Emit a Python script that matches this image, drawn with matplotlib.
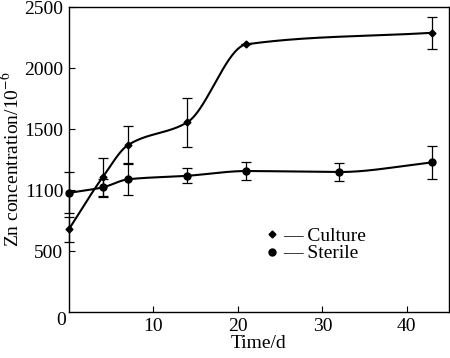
import numpy as np
import matplotlib
matplotlib.use("Agg")
import matplotlib.pyplot as plt
from matplotlib.lines import Line2D

plt.rcParams['font.family'] = ['Liberation Serif', 'DejaVu Serif']
plt.rcParams['mathtext.fontset'] = 'stix'

# data
culture_days = [0, 4, 7, 14, 21, 43]
culture_zn = [678, 1105, 1369, 1555, 2195, 2290]
culture_err = [100, 160, 155, 200, 0, 130]

sterile_days = [0, 4, 7, 14, 21, 32, 43]
sterile_zn = [977, 1022, 1088, 1117, 1156, 1148, 1227]
sterile_err = [168, 70, 130, 62, 75, 74, 135]

y_ticks = [500, 1000, 1500, 2000, 2500]
y_tick_labels = ['500', '1100', '1500', '2000', '2500']
x_ticks = [10, 20, 30, 40]


def pchip(x, y, xs):
    x = np.asarray(x, float); y = np.asarray(y, float)
    h = np.diff(x); d = np.diff(y) / h
    n = len(x)
    m = np.zeros(n)
    for k in range(1, n - 1):
        if d[k - 1] * d[k] > 0:
            w1 = 2 * h[k] + h[k - 1]; w2 = h[k] + 2 * h[k - 1]
            m[k] = (w1 + w2) / (w1 / d[k - 1] + w2 / d[k])
    m[0] = d[0]; m[-1] = d[-1]
    out = np.empty_like(xs)
    for i, t in enumerate(xs):
        k = min(max(np.searchsorted(x, t) - 1, 0), n - 2)
        s = (t - x[k]) / h[k]
        h00 = 2*s**3 - 3*s**2 + 1; h10 = s**3 - 2*s**2 + s
        h01 = -2*s**3 + 3*s**2; h11 = s**3 - s**2
        out[i] = h00*y[k] + h10*h[k]*m[k] + h01*y[k+1] + h11*h[k]*m[k+1]
    return out


fig = plt.figure(figsize=(4.5, 3.58), dpi=100)
ax = fig.add_axes([0.153, 0.1285, 0.845, 0.8515])

xs = np.linspace(culture_days[0], culture_days[-1], 400)
ax.plot(xs, pchip(culture_days, culture_zn, xs), color='black', lw=1.5)
xs2 = np.linspace(sterile_days[0], sterile_days[-1], 400)
ax.plot(xs2, pchip(sterile_days, sterile_zn, xs2), color='black', lw=1.5)

ax.errorbar(culture_days, culture_zn, yerr=culture_err, fmt='D', ms=3.5,
            color='black', ecolor='black', elinewidth=0.9, capsize=3.3,
            capthick=0.9, clip_on=False, zorder=3)
ax.errorbar(sterile_days, sterile_zn, yerr=sterile_err, fmt='o', ms=5,
            color='black', ecolor='black', elinewidth=0.9, capsize=3.3,
            capthick=0.9, clip_on=False, zorder=3)

ax.set_xlim(0, 45)
ax.set_ylim(0, 2500)
ax.set_xticks(x_ticks)
ax.set_yticks(y_ticks)
ax.set_yticklabels(y_tick_labels)
ax.tick_params(direction='in', length=4, width=0.8, labelsize=14,
               top=False, right=False, pad=4)
ax.text(-0.008, -0.027, '0', transform=ax.transAxes, ha='right', va='center',
        fontsize=14)
for s in ax.spines.values():
    s.set_linewidth(1.0)

ax.set_xlabel('Time/d', fontsize=14, labelpad=0)
ax.set_ylabel('Zn concentration/10$^{-6}$', fontsize=14, labelpad=1)

handles = [Line2D([], [], marker='D', ms=3.5, color='black', ls='none'),
           Line2D([], [], marker='o', ms=5, color='black', ls='none')]
ax.legend(handles, ['\u2014 Culture', '\u2014 Sterile'], loc='upper left',
          bbox_to_anchor=(0.497, 0.31), frameon=False, fontsize=14,
          handlelength=0.5, handletextpad=0.3, labelspacing=0.0,
          borderpad=0)

fig.savefig('out.png', dpi=100)
